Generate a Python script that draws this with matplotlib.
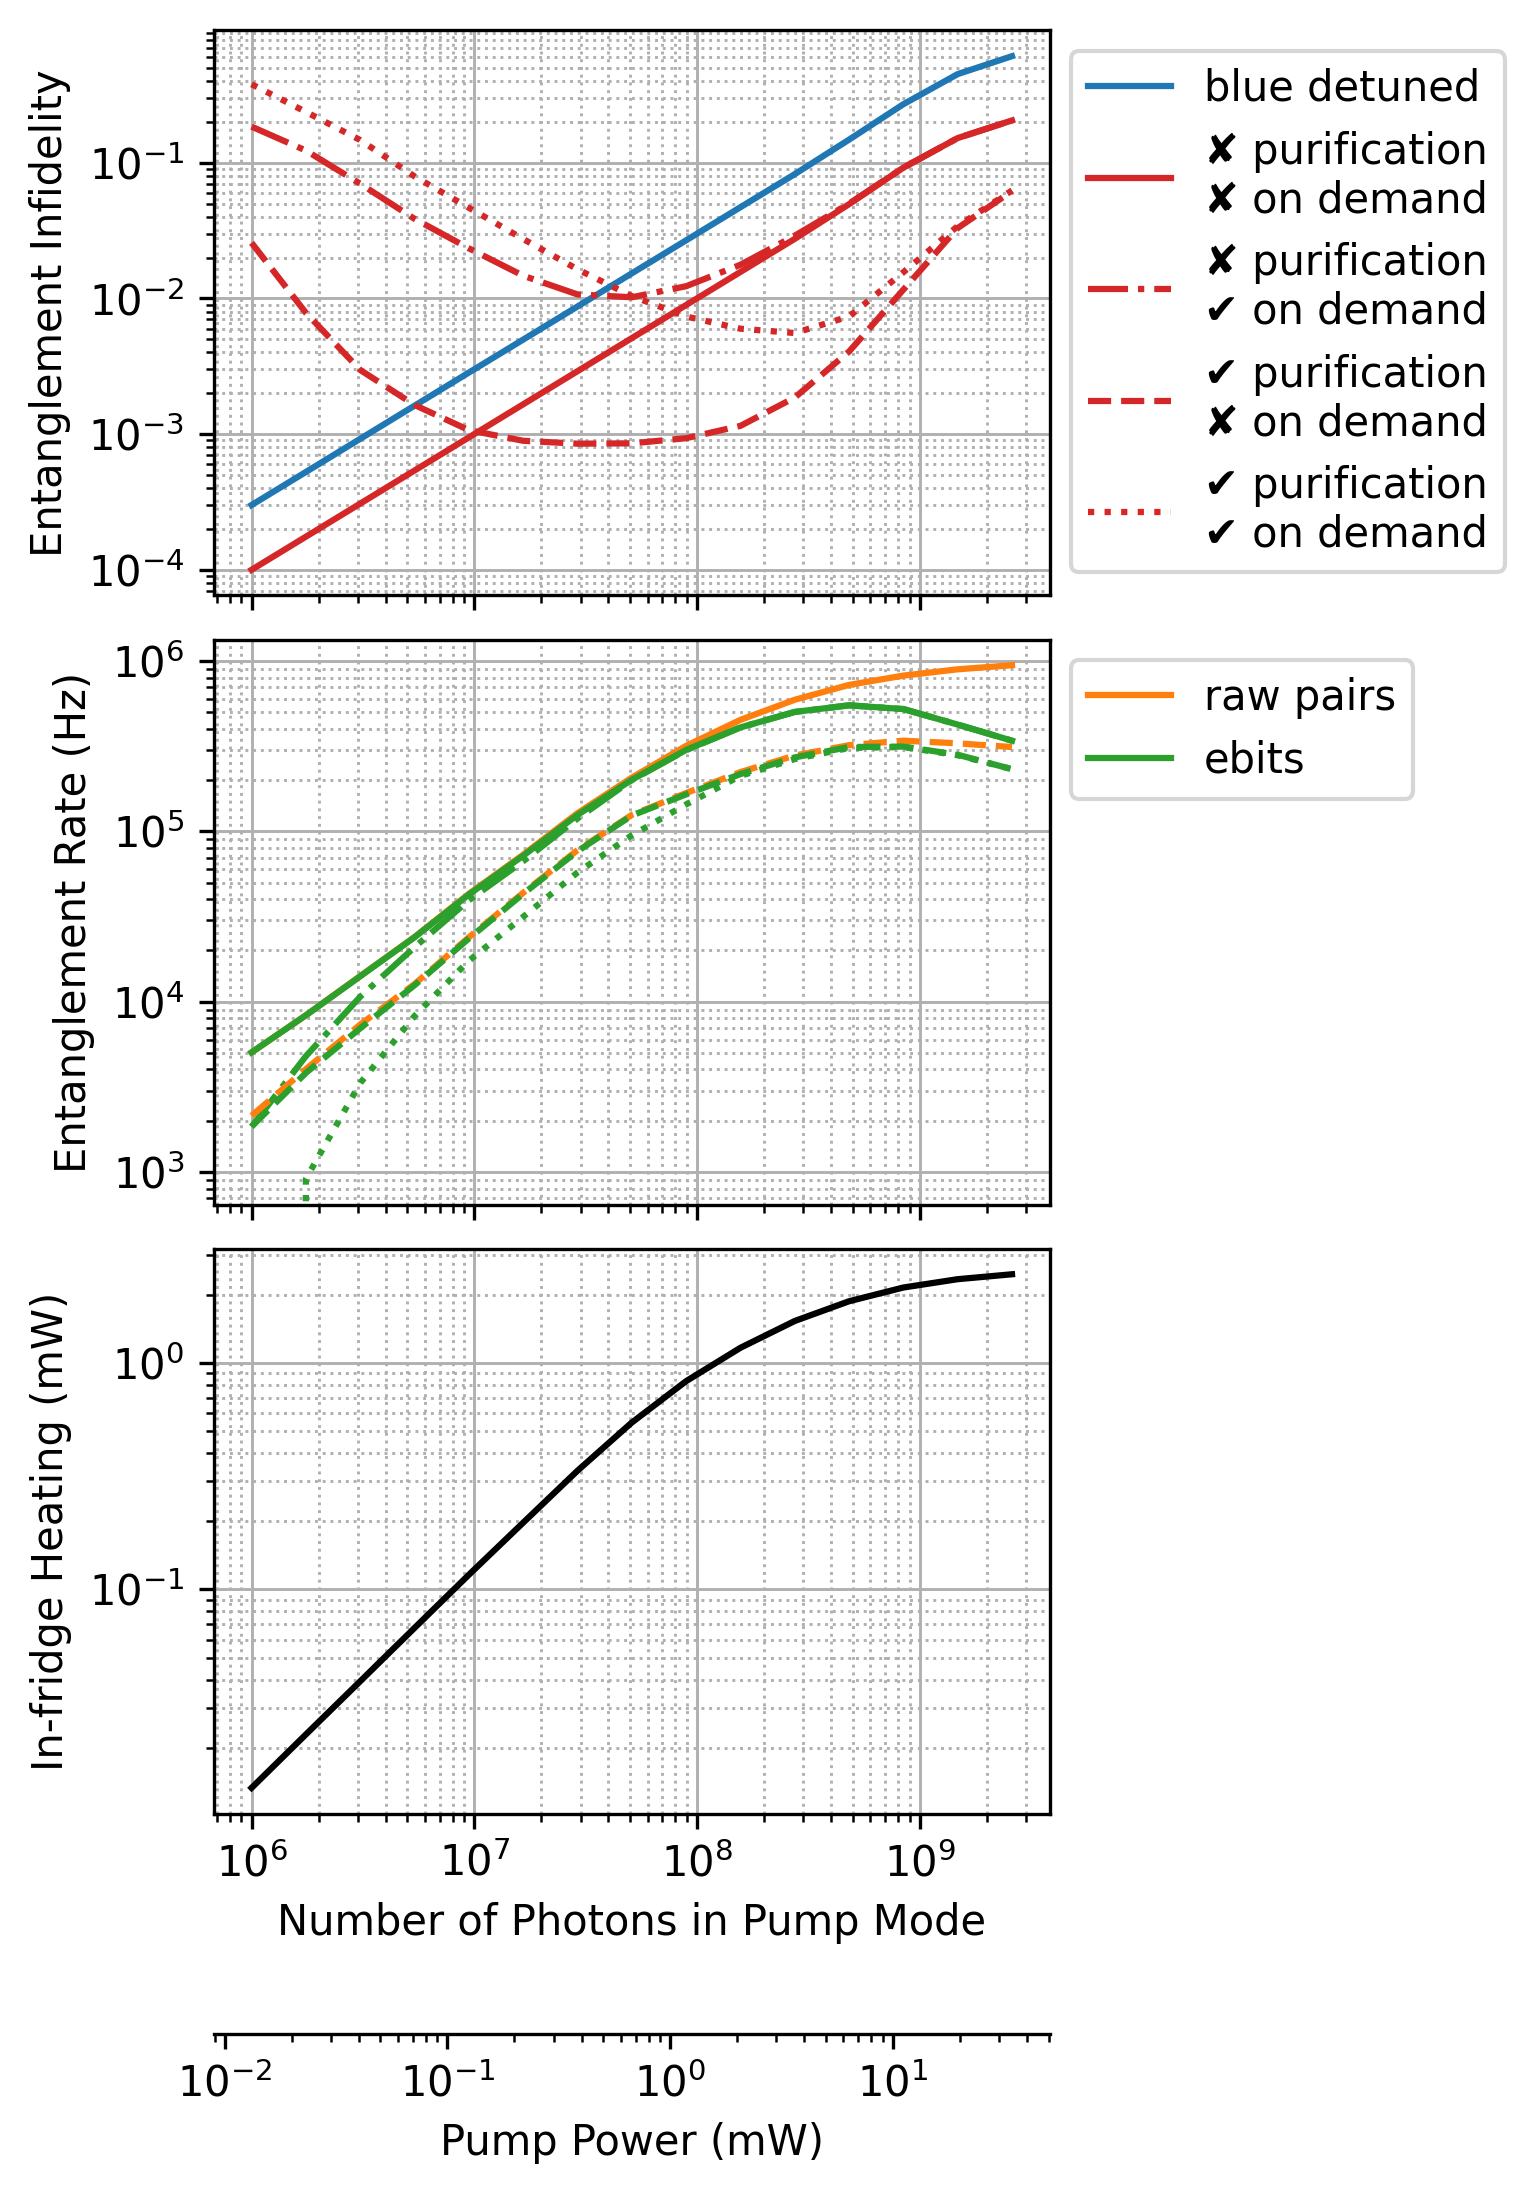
import matplotlib
matplotlib.use('Agg')
import matplotlib.pyplot as plt
import numpy as np

# number of photons in the pump mode (x for every panel)
photons = [1.000e6, 1.754e6, 3.075e6, 5.393e6, 9.454e6, 1.658e7, 2.907e7, 5.097e7,
           8.937e7, 1.567e8, 2.748e8, 4.819e8, 8.449e8, 1.481e9, 2.597e9]

# pump power in mW per photon in the pump mode
mw_per_photon = 1.32e-8

# entanglement infidelity
infid_blue = [3.0e-4, 5.26e-4, 9.23e-4, 1.62e-3, 2.84e-3, 4.97e-3, 8.72e-3, 1.53e-2,
              2.68e-2, 4.70e-2, 8.24e-2, 0.148, 0.27, 0.45, 0.61]
infid_plain = [1.0e-4, 1.754e-4, 3.075e-4, 5.393e-4, 9.454e-4, 1.658e-3, 2.907e-3, 5.097e-3,
               8.937e-3, 1.567e-2, 2.748e-2, 0.0495, 0.092, 0.152, 0.205]
infid_ondemand = [0.1845, 0.123, 0.070, 0.0386, 0.0234, 0.0147, 0.0107, 0.0102,
                  0.0123, 0.0177, 0.0290, 0.0500, 0.092, 0.152, 0.205]
infid_purif = [0.0257, 0.00783, 0.00297, 0.00164, 0.00107, 0.000893, 0.00085, 0.000855,
               0.000933, 0.00115, 0.00186, 0.00406, 0.0116, 0.033, 0.0618]
infid_both = [0.379, 0.237, 0.147, 0.0793, 0.0466, 0.0274, 0.0164, 0.0104,
              0.00736, 0.00598, 0.00556, 0.00736, 0.0156, 0.0341, 0.0625]

# entanglement rates (Hz)
pairs_plain = [5040, 8330, 14150, 24000, 43000, 73000, 128000, 207000,
               318000, 452000, 593000, 725000, 822000, 895000, 946000]
pairs_purif = [2140, 4020, 7340, 12700, 23900, 43600, 77600, 125000,
               168000, 223000, 279000, 321000, 341000, 329000, 313000]
ebits_plain = [5040, 8320, 14100, 23900, 42600, 72000, 125000, 201000,
               301000, 408000, 503000, 550000, 523000, 424000, 341000]
ebits_ondemand = [1846, 4790, 10700, 20900, 39400, 66800, 119000, 200000,
                  300000, 408000, 503000, 550000, 523000, 424000, 341000]
ebits_purif = [1846, 3820, 6980, 12500, 23500, 43000, 76500, 124000,
               165000, 217000, 272000, 313000, 315000, 282000, 232000]
ebits_both = [0.0, 912, 3330, 8240, 17400, 31500, 57400, 94900,
              144000, 212000, 266000, 309000, 313000, 280000, 232000]

# in-fridge heating (mW)
heating = [0.0133, 0.0229, 0.0393, 0.0676, 0.116, 0.197, 0.334, 0.545,
           0.83, 1.165, 1.53, 1.87, 2.15, 2.34, 2.46]

labels = ['\u2718 purification\n\u2718 on demand',
          '\u2718 purification\n\u2714 on demand',
          '\u2714 purification\n\u2718 on demand',
          '\u2714 purification\n\u2714 on demand']

fig, (ax1, ax2, ax3) = plt.subplots(3, 1, sharex=True, figsize=(1534 / 300, 2194 / 300), dpi=300)
fig.subplots_adjust(left=0.1392, right=0.6845, top=0.9861, bottom=0.1734, hspace=0.078)

# infidelity
ax1.plot(photons, infid_blue, color='tab:blue', ls='-', label='blue detuned')
ax1.plot(photons, infid_plain, color='tab:red', ls='-', label=labels[0])
ax1.plot(photons, infid_ondemand, color='tab:red', ls='-.', label=labels[1])
ax1.plot(photons, infid_purif, color='tab:red', ls='--', label=labels[2])
ax1.plot(photons, infid_both, color='tab:red', ls=':', label=labels[3])
ax1.set_ylabel('Entanglement Infidelity')
ax1.legend(loc='upper left', bbox_to_anchor=(1, 1))

# rates
ax2.plot(photons, pairs_plain, color='tab:orange', ls='-', label='raw pairs')
ax2.plot(photons, ebits_plain, color='tab:green', ls='-', label='ebits')
ax2.plot(photons, ebits_ondemand, color='tab:green', ls='-.')
ax2.plot(photons, pairs_purif, color='tab:orange', ls='--')
ax2.plot(photons, ebits_purif, color='tab:green', ls='--')
ax2.plot(photons, ebits_both, color='tab:green', ls=':')
ax2.set_ylabel('Entanglement Rate (Hz)')
ax2.legend(loc='upper left', bbox_to_anchor=(1, 1))

# heating
ax3.plot(photons, heating, color='k')
ax3.set_ylabel('In-fridge Heating (mW)')
ax3.set_xlabel('Number of Photons in Pump Mode')

for ax in (ax1, ax2, ax3):
    ax.set_xscale('log')
    ax.set_yscale('log')
    ax.grid(True, which='major', color='#b0b0b0', lw=0.7)
    ax.grid(True, which='minor', color='#b0b0b0', ls=':', lw=0.7)

sec = ax3.secondary_xaxis(-0.39, functions=(lambda n: n * mw_per_photon,
                                            lambda p: p / mw_per_photon))
sec.set_xlabel('Pump Power (mW)')

fig.savefig('out.png', dpi=300)
